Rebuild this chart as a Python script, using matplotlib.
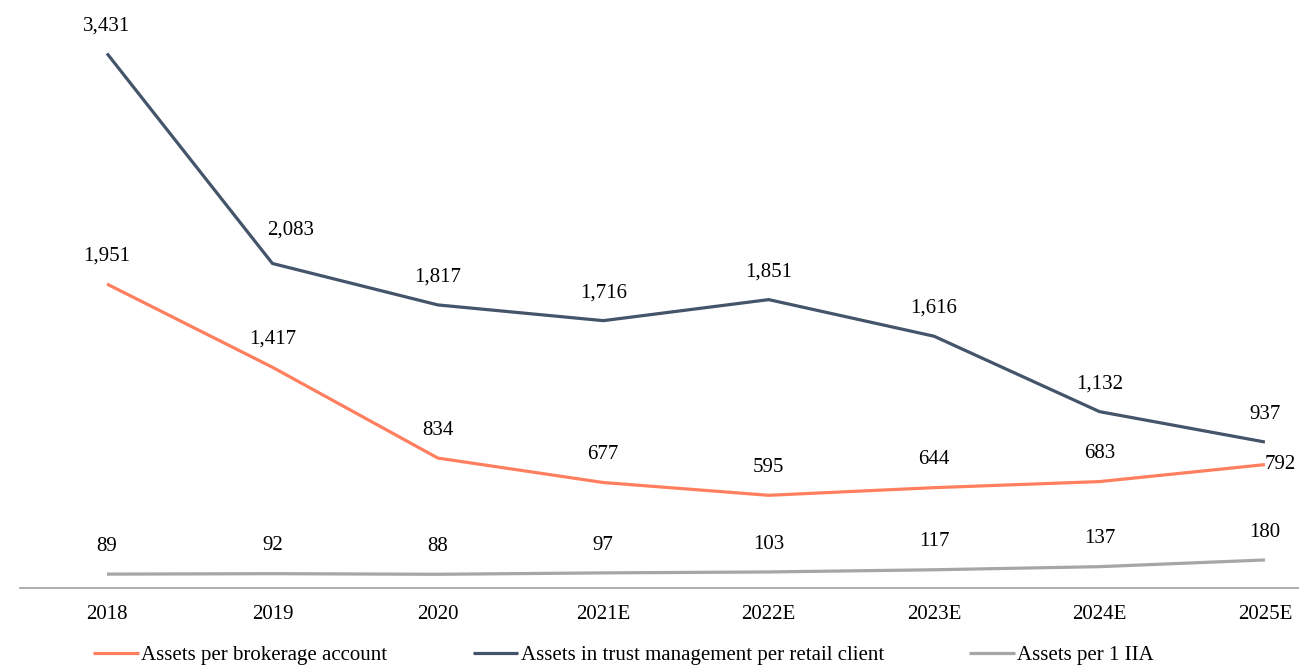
import matplotlib.pyplot as plt
import numpy as np

plt.rcParams['font.family'] = ['Liberation Serif', 'DejaVu Serif']

years = ['2018', '2019', '2020', '2021E', '2022E', '2023E', '2024E', '2025E']
brokerage = [1951, 1417, 834, 677, 595, 644, 683, 792]
trust = [3431, 2083, 1817, 1716, 1851, 1616, 1132, 937]
iia = [89, 92, 88, 97, 103, 117, 137, 180]

fig = plt.figure(figsize=(12.99, 6.69), dpi=100)
ax = fig.add_axes([20/1299, 1 - 588/669, 1 - 20/1299, 578/669])
x = np.arange(len(years))

series = [
    (brokerage, '#FF7F5F', 'Assets per brokerage account'),
    (trust, '#44546A', 'Assets in trust management per retail client'),
    (iia, '#A6A6A6', 'Assets per 1 IIA'),
]
for k, (vals, col, lab) in enumerate(series):
    ax.plot(x, vals, color=col, lw=2.3, label=lab, solid_capstyle='butt')
    for i, v in enumerate(vals):
        txt = f'{v:,}'
        if k == 0 and i == len(vals) - 1:
            ax.annotate(txt, (x[i], v), xytext=(0, 0), textcoords='offset points',
                        ha='left', va='center', fontsize=15)
        elif k == 1 and i == 1:
            # moved right so it clears the line
            ax.annotate(txt, (x[i], v), xytext=(13, 24), textcoords='offset points',
                        ha='center', va='center', fontsize=15)
        else:
            ax.annotate(txt, (x[i], v), xytext=(0, 20), textcoords='offset points',
                        ha='center', va='center', fontsize=15)

ax.set_xlim(-0.526, 7.206)
ax.set_ylim(0, 3710)
ax.set_xticks(x)
ax.set_xticklabels(years, fontsize=15)
ax.tick_params(axis='x', length=0, pad=12)
ax.set_yticks([])
for s in ['top', 'right', 'left']:
    ax.spines[s].set_visible(False)
ax.spines['bottom'].set_color('#A0A0A0')
ax.spines['bottom'].set_linewidth(1.2)

fig.legend(loc='center', bbox_to_anchor=(0.48, 1 - 655/669), ncol=3, frameon=False,
           fontsize=15, handlelength=2.2, handletextpad=0.1, columnspacing=4.1)

fig.savefig('out.png', dpi=100)
